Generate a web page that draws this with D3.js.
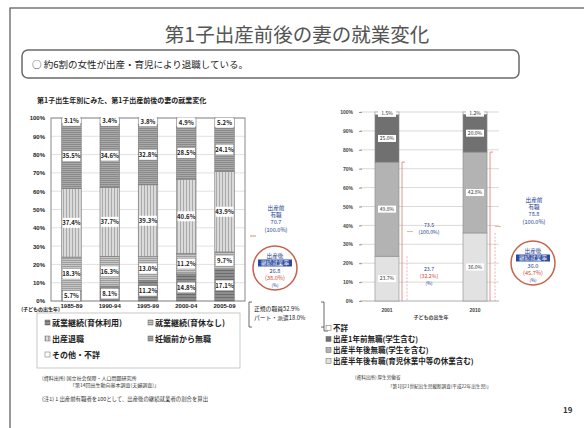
<!DOCTYPE html>
<html><head><meta charset="utf-8">
<script src="https://cdn.jsdelivr.net/npm/d3@7"></script>
<style>
body{margin:0;background:#fff;}
svg{display:block;font-family:"Noto Sans CJK JP","Noto Sans",sans-serif;}
</style></head><body>
<svg id="c" width="584" height="428"></svg>
<script>
// 第1子出生年別 妻の就業変化 (%)
const cohorts = ["1985-89", "1990-94", "1995-99", "2000-04", "2005-09"];
const leaveUsed = [5.7, 8.1, 11.2, 14.8, 17.1];        // 就業継続(育休利用)
const noLeave = [18.3, 16.3, 13.0, 11.2, 9.7];          // 就業継続(育休なし)
const quitAtBirth = [37.4, 37.7, 39.3, 40.6, 43.9];     // 出産退職
const notWorking = [35.5, 34.6, 32.8, 28.5, 24.1];      // 妊娠前から無職
const otherUnknown = [3.1, 3.4, 3.8, 4.9, 5.2];         // その他・不詳
const leftNames = ["就業継続(育休利用)", "就業継続(育休なし)", "出産退職", "妊娠前から無職", "その他・不詳"];
const percentTicks = [0, 10, 20, 30, 40, 50, 60, 70, 80, 90, 100];

// 子どもの出生年別 母の就業状況 (%)
const birthYears = ["2001", "2010"];
const workingAfter = [23.7, 36.0];      // 出産半年後有職
const notWorkingAfter = [49.8, 42.8];   // 出産半年後無職
const notWorkingBefore = [25.0, 20.0];  // 出産1年前無職
const unknownR = [1.5, 1.2];            // 不詳
const rightNames = ["出産半年後有職(育児休業中等の休業含む)", "出産半年後無職(学生を含む)", "出産1年前無職(学生含む)", "不詳"];
const continuationRateLeft = "38.0";
const continuationRatesRight = ["32.2", "45.7"];

const svg = d3.select("#c");
const BLUE = "#23408e", RED = "#d2452a";

// slide frame and headings
svg.append("rect").attr("x", 10).attr("y", 8).attr("width", 580).attr("height", 430)
  .attr("fill", "none").attr("stroke", "#555").attr("stroke-width", 1.2);
svg.append("text").attr("x", 297).attr("y", 42).attr("text-anchor", "middle")
  .attr("font-size", 19.5).attr("fill", "#555").text("第1子出産前後の妻の就業変化");
svg.append("rect").attr("x", 22).attr("y", 50).attr("width", 497).attr("height", 28).attr("rx", 6)
  .attr("fill", "#fff").attr("stroke", "#6a6a6a").attr("stroke-width", 1.5);
svg.append("text").attr("x", 32).attr("y", 68).attr("font-size", 9.5).attr("fill", "#222")
  .text("○  約6割の女性が出産・育児により退職している。");
svg.append("text").attr("x", 37).attr("y", 103).attr("font-size", 7).attr("font-weight", "bold").attr("fill", "#222")
  .text("第1子出生年別にみた、第1子出産前後の妻の就業変化");

// hatch patterns
const defs = svg.append("defs");
function pattern(id, base, line, w, vertical) {
  const p = defs.append("pattern").attr("id", id).attr("patternUnits", "userSpaceOnUse")
    .attr("width", w).attr("height", w);
  p.append("rect").attr("width", w).attr("height", w).attr("fill", base);
  if (vertical) p.append("rect").attr("width", 1).attr("height", w).attr("fill", line);
  else p.append("rect").attr("width", w).attr("height", 1).attr("fill", line);
}
pattern("pUsed", "#8e8e8e", "#6c6c6c", 3, false);
pattern("pNoLeave", "#c6c6c6", "#9e9e9e", 2, false);
pattern("pQuit", "#dadada", "#aaaaaa", 3, true);
pattern("pNone", "#a9a9a9", "#8a8a8a", 2, false);
const leftFills = ["url(#pUsed)", "url(#pNoLeave)", "url(#pQuit)", "url(#pNone)", "#ffffff"];

// ---------- left chart ----------
const yL = d3.scaleLinear().domain([0, 100]).range([301, 118]);
const xL = d3.scaleBand().domain(cohorts).range([51, 245]).paddingInner(0.49).paddingOuter(0.28);
const leftRows = cohorts.map((c, i) => ({cohort: c, s0: leaveUsed[i], s1: noLeave[i], s2: quitAtBirth[i], s3: notWorking[i], s4: otherUnknown[i]}));
const leftStack = d3.stack().keys(["s0", "s1", "s2", "s3", "s4"])(leftRows);

const gL = svg.append("g");
gL.selectAll("line.grid").data(percentTicks).join("line")
  .attr("x1", 51).attr("x2", 245).attr("y1", d => yL(d)).attr("y2", d => yL(d))
  .attr("stroke", "#d4d4d4").attr("stroke-width", 0.7);
gL.append("rect").attr("x", 51).attr("y", yL(100)).attr("width", 194).attr("height", yL(0) - yL(100))
  .attr("fill", "none").attr("stroke", "#8a8a8a").attr("stroke-width", 1);

leftStack.forEach((layer, k) => {
  gL.append("g").selectAll("rect").data(layer).join("rect")
    .attr("x", d => xL(d.data.cohort)).attr("width", xL.bandwidth())
    .attr("y", d => yL(d[1])).attr("height", d => yL(d[0]) - yL(d[1]))
    .attr("fill", leftFills[k]).attr("stroke", "#777").attr("stroke-width", 0.6);
});
leftStack.forEach(layer => {
  const lab = gL.append("g").selectAll("g").data(layer).join("g")
    .attr("transform", d => `translate(${xL(d.data.cohort)},${yL((d[0] + d[1]) / 2)})`);
  lab.append("rect").attr("x", 1).attr("y", -5).attr("width", xL.bandwidth() - 2).attr("height", 10).attr("fill", "#fff");
  lab.append("text").attr("x", xL.bandwidth() / 2).attr("y", 2.3).attr("text-anchor", "middle")
    .attr("font-size", 6).attr("font-weight", "bold").attr("fill", "#222")
    .text(d => (d[1] - d[0]).toFixed(1) + "%");
});

const axL = gL.append("g").attr("transform", "translate(51,0)")
  .call(d3.axisLeft(yL).tickValues(percentTicks).tickFormat(d => d + "%").tickSize(0).tickPadding(6));
axL.select(".domain").remove();
axL.selectAll("text").attr("font-size", 6).attr("font-weight", "bold").attr("fill", "#222").attr("font-family", "inherit");
const axLx = gL.append("g").attr("transform", "translate(0,301)")
  .call(d3.axisBottom(xL).tickSize(0).tickPadding(3));
axLx.select(".domain").remove();
axLx.selectAll("text").attr("font-size", 6).attr("font-weight", "bold").attr("fill", "#222").attr("font-family", "inherit");
gL.append("text").attr("x", 60).attr("y", 311).attr("text-anchor", "end").attr("font-size", 5)
  .attr("font-weight", "bold").attr("fill", "#222").text("(子どもの出生年)");

// left legend
svg.append("rect").attr("x", 37).attr("y", 313).attr("width", 203).attr("height", 55)
  .attr("fill", "#fff").attr("stroke", "#bbb").attr("stroke-width", 0.8);
const legL = [[0, 45, 326], [1, 148, 326], [2, 45, 342], [3, 148, 342], [4, 45, 358]];
legL.forEach(([k, x, y]) => {
  svg.append("rect").attr("x", x).attr("y", y - 6).attr("width", 5).attr("height", 5)
    .attr("fill", leftFills[k]).attr("stroke", "#666").attr("stroke-width", 0.5);
  svg.append("text").attr("x", x + 7).attr("y", y).attr("font-size", 8).attr("font-weight", "bold")
    .attr("fill", "#222").text(leftNames[k]);
});

// left annotation
const before = d3.sum([leaveUsed[4], noLeave[4], quitAtBirth[4]]);
const cont = d3.sum([leaveUsed[4], noLeave[4]]);
function note(g, x, y, lines) {
  lines.forEach(([t, c, fs], i) => g.append("text").attr("x", x).attr("y", y + i * 7.2).attr("text-anchor", "middle")
    .attr("font-size", fs || 5.6).attr("fill", c).text(t));
}
note(svg, 276, 210, [["出産前", BLUE], ["有職", BLUE], [before.toFixed(1), BLUE], ["(100.0%)", BLUE]]);
svg.append("line").attr("x1", 250).attr("x2", 256).attr("y1", 236).attr("y2", 236).attr("stroke", "#e09060").attr("stroke-width", 1);
function circleNote(cx, cy, value, rate) {
  svg.append("circle").attr("cx", cx).attr("cy", cy).attr("r", 22).attr("fill", "#fff")
    .attr("stroke", "#c9624c").attr("stroke-width", 1.5);
  svg.append("text").attr("x", cx).attr("y", cy - 10).attr("text-anchor", "middle").attr("font-size", 5.6).attr("fill", BLUE).text("出産後");
  svg.append("rect").attr("x", cx - 17).attr("y", cy - 8.5).attr("width", 34).attr("height", 7).attr("fill", "#2c4a9a");
  svg.append("text").attr("x", cx).attr("y", cy - 3).attr("text-anchor", "middle").attr("font-size", 5.6).attr("fill", "#e8ecff").text("継続就業率");
  svg.append("text").attr("x", cx).attr("y", cy + 5).attr("text-anchor", "middle").attr("font-size", 5.6).attr("fill", BLUE).text(value);
  svg.append("text").attr("x", cx).attr("y", cy + 12).attr("text-anchor", "middle").attr("font-size", 5.6).attr("fill", RED).text("(" + rate + "%)");
  svg.append("text").attr("x", cx).attr("y", cy + 18.5).attr("text-anchor", "middle").attr("font-size", 4.5).attr("fill", BLUE).text("(%)");
}
circleNote(275, 268, cont.toFixed(1), continuationRateLeft);

// employment-type bracket
svg.append("path").attr("d", "M252,302 h-3 v25 h3").attr("fill", "none").attr("stroke", "#444").attr("stroke-width", 0.8);
svg.append("path").attr("d", "M321,302 h3 v25 h-3").attr("fill", "none").attr("stroke", "#444").attr("stroke-width", 0.8);
svg.append("text").attr("x", 254).attr("y", 311).attr("font-size", 5.8).attr("fill", "#222").text("正規の職員52.9%");
svg.append("text").attr("x", 254).attr("y", 320).attr("font-size", 5.8).attr("fill", "#222").text("パート・派遣18.0%");
svg.append("path").attr("d", "M324,327 v4 h4").attr("fill", "none").attr("stroke", "#444").attr("stroke-width", 0.8);

// ---------- right chart ----------
const yR = d3.scaleLinear().domain([0, 100]).range([301, 112]);
const xR = d3.scaleBand().domain(birthYears).range([363, 499]).paddingInner(0.727).paddingOuter(0.136);
const rightRows = birthYears.map((y, i) => ({year: y, s0: workingAfter[i], s1: notWorkingAfter[i], s2: notWorkingBefore[i], s3: unknownR[i]}));
const rightStack = d3.stack().keys(["s0", "s1", "s2", "s3"])(rightRows);
const rightFills = ["#e2e2e2", "#b3b3b3", "#707070", "#ffffff"];

const gR = svg.append("g");
gR.selectAll("line.grid").data(percentTicks).join("line")
  .attr("x1", 360).attr("x2", 499).attr("y1", d => yR(d)).attr("y2", d => yR(d))
  .attr("stroke", d => d === 0 ? "#999" : "#cfcfcf").attr("stroke-width", 0.8);
rightStack.forEach((layer, k) => {
  gR.append("g").selectAll("rect").data(layer).join("rect")
    .attr("x", d => xR(d.data.year)).attr("width", xR.bandwidth())
    .attr("y", d => yR(d[1])).attr("height", d => yR(d[0]) - yR(d[1]))
    .attr("fill", rightFills[k]).attr("stroke", "#8a8a8a").attr("stroke-width", 0.6);
});
rightStack.forEach(layer => {
  const lab = gR.append("g").selectAll("g").data(layer).join("g")
    .attr("transform", d => `translate(${xR(d.data.year) + xR.bandwidth() / 2},${yR((d[0] + d[1]) / 2)})`);
  lab.append("rect").attr("x", -9).attr("y", -3.5).attr("width", 18).attr("height", 7).attr("fill", "#fff");
  lab.append("text").attr("y", 1.8).attr("text-anchor", "middle").attr("font-size", 5)
    .attr("fill", "#333").text(d => (d[1] - d[0]).toFixed(1) + "%");
});
const axR = gR.append("g").attr("transform", "translate(362,0)")
  .call(d3.axisLeft(yR).tickValues(percentTicks).tickFormat(d => d + "%").tickSize(3).tickPadding(6));
axR.select(".domain").remove();
axR.selectAll("line").attr("stroke", "#999");
axR.selectAll("text").attr("font-size", 5).attr("font-weight", "bold").attr("fill", "#444").attr("font-family", "inherit");
const axRx = gR.append("g").attr("transform", "translate(0,301)")
  .call(d3.axisBottom(xR).tickSize(0).tickPadding(7));
axRx.select(".domain").remove();
axRx.selectAll("text").attr("font-size", 5).attr("font-weight", "bold").attr("fill", "#444").attr("font-family", "inherit");
gR.append("text").attr("x", 431).attr("y", 319).attr("text-anchor", "middle").attr("font-size", 5)
  .attr("font-weight", "bold").attr("fill", "#444").text("子どもの出生年");

// brackets for employed-before and still-working
birthYears.forEach((yr, i) => {
  const bx = xR(yr) + xR.bandwidth();
  const emp = workingAfter[i] + notWorkingAfter[i];
  gR.append("line").attr("x1", bx + 3).attr("x2", bx + 3).attr("y1", yR(emp)).attr("y2", yR(0))
    .attr("stroke", "#e07a6a").attr("stroke-width", 0.8);
  gR.append("line").attr("x1", bx + 3).attr("x2", bx + 6).attr("y1", yR(emp)).attr("y2", yR(emp))
    .attr("stroke", "#e07a6a").attr("stroke-width", 0.8);
  gR.append("line").attr("x1", bx + 8).attr("x2", bx + 8).attr("y1", yR(workingAfter[i])).attr("y2", yR(0))
    .attr("stroke", "#e09a8a").attr("stroke-width", 0.7).attr("stroke-dasharray", "2,1.5");
  gR.append("line").attr("x1", bx + 8).attr("x2", bx + 14).attr("y1", yR(emp / 2)).attr("y2", yR(emp / 2))
    .attr("stroke", "#eda070").attr("stroke-width", 0.8);
});
const emp01 = workingAfter[0] + notWorkingAfter[0];
note(svg, 429, 227, [[emp01.toFixed(1), BLUE, 5.2], ["(100.0%)", BLUE, 5.2]]);
note(svg, 429, 271, [[workingAfter[0].toFixed(1), BLUE, 5.2], ["(" + continuationRatesRight[0] + "%)", RED, 5.2], ["(%)", BLUE, 4.4]]);
const emp10 = workingAfter[1] + notWorkingAfter[1];
note(svg, 534, 202, [["出産前", BLUE], ["有職", BLUE], [emp10.toFixed(1), BLUE], ["(100.0%)", BLUE]]);
circleNote(533, 263, workingAfter[1].toFixed(1), continuationRatesRight[1]);

// right legend
const legR = [[3, 331], [2, 342], [1, 353], [0, 364]];
legR.forEach(([k, y]) => {
  svg.append("rect").attr("x", 326).attr("y", y - 5.5).attr("width", 5).attr("height", 5)
    .attr("fill", rightFills[k]).attr("stroke", "#666").attr("stroke-width", 0.5);
  svg.append("text").attr("x", 333).attr("y", y).attr("font-size", 7.5).attr("font-weight", "bold")
    .attr("fill", "#222").text(rightNames[k]);
});

// sources and notes
const small = (x, y, t, fs) => svg.append("text").attr("x", x).attr("y", y).attr("font-size", fs || 5)
  .attr("fill", "#333").text(t);
small(42, 380, "(資料出所) 国立社会保障・人口問題研究所");
small(70, 387, "「第14回出生動向基本調査(夫婦調査)」");
small(42, 401, "(注1)    1 出産前有職者を100として、出産後の継続就業者の割合を算出", 5.4);
small(355, 379, "(資料出所) 厚生労働省", 4.6);
small(388, 388, "「第1回21世紀出生児縦断調査(平成22年出生児)」", 4.6);
svg.append("text").attr("x", 563).attr("y", 413).attr("font-size", 8).attr("font-weight", "bold")
  .attr("fill", "#333").text("19");
</script>
</body></html>
